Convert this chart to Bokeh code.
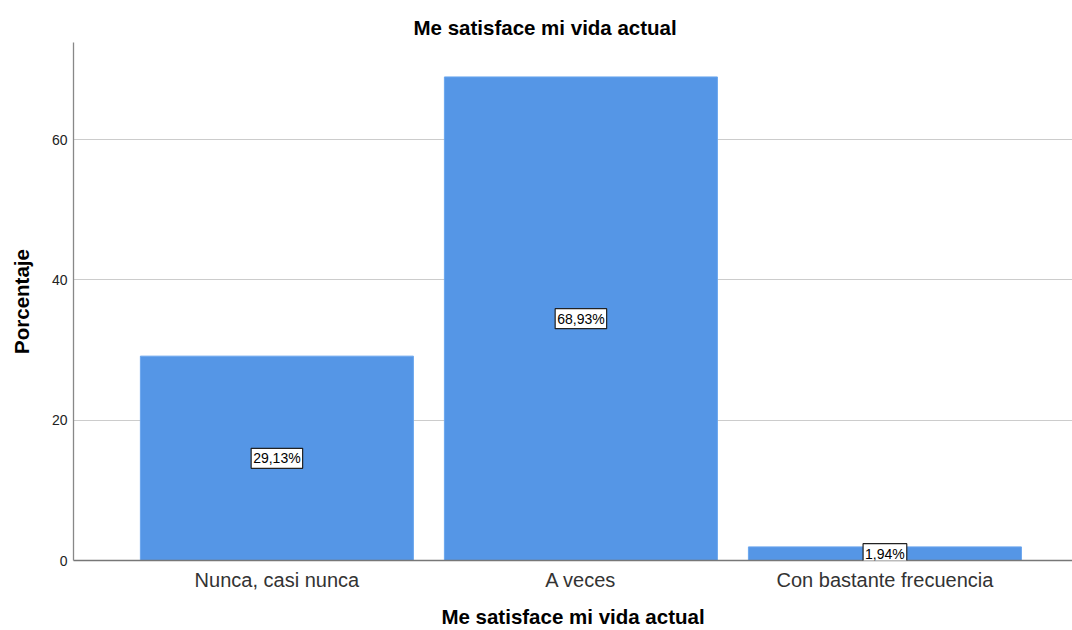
from bokeh.plotting import figure
from bokeh.models import ColumnDataSource, Label, FixedTicker, Range1d
from bokeh.embed import file_html
from bokeh.resources import INLINE

categories = ["Nunca, casi nunca", "A veces", "Con bastante frecuencia"]
percentages = [29.13, 68.93, 1.94]
label_texts = ["29,13%", "68,93%", "1,94%"]
y_ticks = [0, 20, 40, 60]

FONT = "Liberation Sans"
BOLD_SIZE = "20.5px"

xs = list(range(len(categories)))
src = ColumnDataSource(dict(x=xs, top=percentages))

p = figure(width=1072, height=630, output_backend="svg", toolbar_location=None,
           x_range=Range1d(-0.669, 2.617), y_range=Range1d(0, 73.84),
           min_border_left=73, min_border_right=0, min_border_top=42, min_border_bottom=70,
           title="Me satisface mi vida actual")
p.outline_line_color = None
p.background_fill_color = "white"
p.border_fill_color = "white"

p.title.align = "left"
p.title.offset = 340
p.title.standoff = 8
p.title.text_font = FONT
p.title.text_font_size = BOLD_SIZE
p.title.text_font_style = "bold"
p.title.text_color = "#000000"

p.vbar(x="x", top="top", bottom=0, width=0.898, source=src,
       fill_color="#5596E6", line_color="#6aa6ee", line_width=1)

for xi, v, t in zip(xs, percentages, label_texts):
    p.add_layout(Label(x=xi, y=v / 2, text=t,
                       text_align="center", text_baseline="middle",
                       text_font=FONT, text_font_size="14px", text_color="black",
                       background_fill_color="white", border_line_color="#222222",
                       border_line_width=1.2, padding=2))

# Axes
p.xaxis.ticker = FixedTicker(ticks=xs)
p.xaxis.major_label_overrides = {i: c for i, c in enumerate(categories)}
p.xaxis.major_label_text_font = FONT
p.xaxis.major_label_text_font_size = "20px"
p.xaxis.major_label_text_color = "#333333"
p.xaxis.major_tick_line_color = None
p.xaxis.minor_tick_line_color = None
p.xaxis.major_tick_out = 0
p.xaxis.major_tick_in = 0
p.xaxis.minor_tick_out = 0
p.xaxis.major_label_standoff = 8
p.xaxis.axis_line_color = "#777777"
p.xaxis.axis_line_width = 1.3
p.xaxis.axis_label = "Me satisface mi vida actual"
p.xaxis.axis_label_text_font = FONT
p.xaxis.axis_label_text_font_size = BOLD_SIZE
p.xaxis.axis_label_text_font_style = "bold"
p.xaxis.axis_label_text_color = "#000000"
p.xaxis.axis_label_standoff = 11

p.yaxis.ticker = FixedTicker(ticks=y_ticks)
p.yaxis.major_label_text_font = FONT
p.yaxis.major_label_text_font_size = "14px"
p.yaxis.major_label_text_color = "#222222"
p.yaxis.major_tick_line_color = None
p.yaxis.minor_tick_line_color = None
p.yaxis.major_tick_out = 0
p.yaxis.major_tick_in = 0
p.yaxis.minor_tick_out = 0
p.yaxis.major_label_standoff = 6
p.yaxis.axis_line_color = "#888888"
p.yaxis.axis_line_width = 1.3
p.yaxis.axis_label = "Porcentaje"
p.yaxis.axis_label_text_font = FONT
p.yaxis.axis_label_text_font_size = BOLD_SIZE
p.yaxis.axis_label_text_font_style = "bold"
p.yaxis.axis_label_text_color = "#000000"
p.yaxis.axis_label_standoff = 16

p.xgrid.grid_line_color = None
p.ygrid.ticker = FixedTicker(ticks=[20, 40, 60])
p.ygrid.grid_line_color = "#cccccc"
p.ygrid.grid_line_width = 1

open("out.html", "w").write(file_html(p, INLINE))
